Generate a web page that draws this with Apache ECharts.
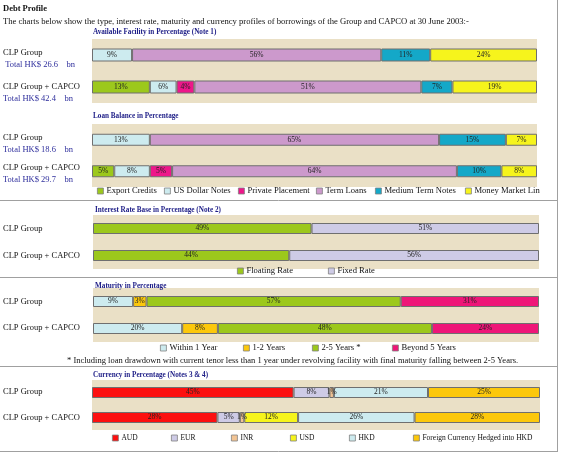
<!DOCTYPE html>
<html>
<head>
<meta charset="utf-8">
<script src="https://cdn.jsdelivr.net/npm/echarts@6/dist/echarts.min.js"></script>
<style>
html,body{margin:0;padding:0;background:#fff;}
#c{width:561px;height:454px;}
</style>
</head>
<body>
<div id="c"></div>
<script>
// ---- data ----
const rows = ['CLP Group', 'CLP Group + CAPCO'];
const facilityTotals = [26.6, 42.4];
const loanTotals = [18.6, 29.7];

const typeNames = ['Export Credits', 'US Dollar Notes', 'Private Placement', 'Term Loans', 'Medium Term Notes', 'Money Market Line'];
const facilityCLP = [0, 9, 0, 56, 11, 24];
const facilityCAPCO = [13, 6, 4, 51, 7, 19];
const loanCLP = [0, 13, 0, 65, 15, 7];
const loanCAPCO = [5, 8, 5, 64, 10, 8];

const rateNames = ['Floating Rate', 'Fixed Rate'];
const rateCLP = [49, 51];
const rateCAPCO = [44, 56];

const maturityNames = ['Within 1 Year', '1-2 Years', '2-5 Years *', 'Beyond 5 Years'];
const maturityCLP = [9, 3, 57, 31];
const maturityCAPCO = [20, 8, 48, 24];

const currencyNames = ['AUD', 'EUR', 'INR', 'USD', 'HKD', 'Foreign Currency Hedged into HKD'];
const currencyCLP = [45, 8, 1, 0, 21, 25];
const currencyCAPCO = [28, 5, 1, 12, 26, 28];

// ---- styles ----
const colors = {
  'Export Credits': '#9cc81c', 'US Dollar Notes': '#cdebef', 'Private Placement': '#ee168a',
  'Term Loans': '#cc99cc', 'Medium Term Notes': '#14a8c8', 'Money Market Line': '#f6f41c',
  'Floating Rate': '#9cc81c', 'Fixed Rate': '#cecbe6',
  'Within 1 Year': '#cdebef', '1-2 Years': '#fcc80c', '2-5 Years *': '#9cc81c', 'Beyond 5 Years': '#ee1678',
  'AUD': '#fc1010', 'EUR': '#cecbe6', 'INR': '#f2c494', 'USD': '#f6f41c', 'HKD': '#cdebef',
  'Foreign Currency Hedged into HKD': '#fcc80c'
};
const serif = '"Liberation Serif", "Times New Roman", serif';
const bg = '#eae0c6';

const panels = [
  {names: typeNames, a: facilityCLP, b: facilityCAPCO, grid: {left: 92, top: 39, width: 445, height: 64}, bw: 13},
  {names: typeNames, a: loanCLP, b: loanCAPCO, grid: {left: 92, top: 124, width: 445, height: 63}, bw: 12},
  {names: rateNames, a: rateCLP, b: rateCAPCO, grid: {left: 93, top: 215, width: 446, height: 54}, bw: 11},
  {names: maturityNames, a: maturityCLP, b: maturityCAPCO, grid: {left: 93, top: 288, width: 446, height: 54}, bw: 11},
  {names: currencyNames, a: currencyCLP, b: currencyCAPCO, grid: {left: 92, top: 380, width: 448, height: 50}, bw: 11}
];

const grids = [], xAxes = [], yAxes = [], series = [];
panels.forEach((p, i) => {
  grids.push(Object.assign({show: true, backgroundColor: bg, borderWidth: 0}, p.grid));
  xAxes.push({gridIndex: i, type: 'value', min: 0, max: 100, show: false});
  yAxes.push({gridIndex: i, type: 'category', data: rows, inverse: true, show: false});
  p.names.forEach((n, k) => {
    const v = x => (x === 0 ? '-' : x);
    series.push({
      type: 'bar', name: n, stack: 'p' + i, xAxisIndex: i, yAxisIndex: i,
      barWidth: p.bw, data: [v(p.a[k]), v(p.b[k])],
      itemStyle: {color: colors[n], borderColor: '#6f6f6f', borderWidth: 1},
      label: {show: true, position: 'inside', formatter: '{c}%', fontSize: 7.5, color: '#222', fontFamily: serif},
      emphasis: {disabled: true}
    });
  });
});

const titles = [
  ['Available Facility in Percentage (Note 1)', 93, 29],
  ['Loan Balance in Percentage', 93, 113],
  ['Interest Rate Base in Percentage (Note 2)', 95, 207],
  ['Maturity in Percentage', 95, 283],
  ['Currency in Percentage (Notes 3 & 4)', 93, 372]
].map(t => ({text: t[0], left: t[1], top: t[2], padding: 0,
  textStyle: {fontSize: 7.2, fontWeight: 'bold', color: '#1c1c86', fontFamily: serif}}));

const legends = [];
function addLegend(names, xs, y, fs, extra) {
  names.forEach((n, k) => {
    legends.push({
      data: [n], left: xs[k], top: y - 5, padding: 0, itemWidth: 6, itemHeight: 6, itemGap: 0,
      icon: 'rect', selectedMode: false,
      itemStyle: {borderColor: '#808080', borderWidth: 0.8},
      textStyle: Object.assign({fontSize: fs, color: '#111', fontFamily: serif, padding: [0, 0, 0, -2], lineHeight: 10},
        (extra && extra[k]) || {})
    });
  });
}
addLegend(typeNames, [97, 164, 238, 316, 375, 465], 191, 8.6, {5: {width: 70, overflow: 'truncate', ellipsis: ''}});
addLegend(rateNames, [237, 328], 271, 8.6);
addLegend(maturityNames, [160, 243, 312, 392], 348, 8.6);
addLegend(currencyNames, [112, 171, 231, 290, 349, 413], 438, 7.5);

const txt = (s, x, y, fs, color, weight) => ({
  type: 'text', left: x, top: y - fs * 0.6, silent: true,
  style: {text: s, fontSize: fs, fill: color || '#111', fontFamily: serif, fontWeight: weight || 'normal'}
});
const line = (x1, y1, x2, y2) => ({type: 'line', silent: true, shape: {x1, y1, x2, y2}, style: {stroke: '#a0a0a0', lineWidth: 1}});
const blue = '#2e2e9c';

const graphics = [
  txt('Debt Profile', 3, 9, 8.5, '#111', 'bold'),
  txt('The charts below show the type, interest rate, maturity and currency profiles of borrowings of the Group and CAPCO at 30 June 2003:-', 3, 22, 8.6),
  txt(rows[0], 3, 53, 8.5), txt(' Total HK$ ' + facilityTotals[0] + '    bn', 3, 65, 8.5, blue),
  txt(rows[1], 3, 87, 8.5), txt('Total HK$ ' + facilityTotals[1] + '    bn', 3, 99, 8.5, blue),
  txt(rows[0], 3, 138, 8.5), txt('Total HK$ ' + loanTotals[0] + '    bn', 3, 150, 8.5, blue),
  txt(rows[1], 3, 168, 8.5), txt('Total HK$ ' + loanTotals[1] + '    bn', 3, 180, 8.5, blue),
  txt(rows[0], 3, 229, 8.5), txt(rows[1], 3, 256, 8.5),
  txt(rows[0], 3, 302, 8.5), txt(rows[1], 3, 328, 8.5),
  txt(rows[0], 3, 392, 8.5), txt(rows[1], 3, 418, 8.5),
  txt('* Including loan drawdown with current tenor less than 1 year under revolving facility with final maturity falling between 2-5 Years.', 67, 361, 8.5),
  line(0, 200.5, 557, 200.5), line(0, 277.5, 557, 277.5), line(0, 366.5, 557, 366.5), line(0, 451.5, 557.5, 451.5),
  line(557.5, 0, 557.5, 452)
];

const chart = echarts.init(document.getElementById('c'), null, {renderer: 'canvas'});
chart.setOption({
  animation: false,
  backgroundColor: '#fff',
  title: titles,
  legend: legends,
  grid: grids,
  xAxis: xAxes,
  yAxis: yAxes,
  series: series,
  graphic: graphics
});
</script>
</body>
</html>
